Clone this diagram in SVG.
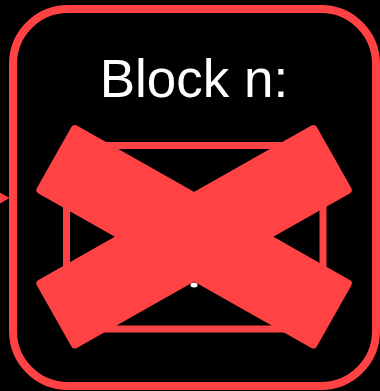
<svg xmlns="http://www.w3.org/2000/svg" width="380" height="391" viewBox="0 0 380 391">
  <style>
    .red-stroke { fill: none; stroke: #ff4244; }
    .band { fill: #ff4244; }
    .label { font-family: "Liberation Sans", Arial, sans-serif; fill: #ffffff; text-anchor: middle; }
  </style>
  <rect x="0" y="0" width="380" height="391" fill="#000000"/>
  <g id="connectors">
    <polygon points="0,192.5 9.5,198 0,203.5" fill="#ff4244"/>
  </g>
  <g id="block-n">
    <rect class="red-stroke" x="13" y="9" width="363" height="377" rx="55" ry="55" stroke-width="8"/>
    <text class="label" x="194" y="96.5" font-size="53">Block n:</text>
    <rect class="red-stroke" x="66.5" y="145.5" width="256.5" height="183.5" rx="8" ry="8" stroke-width="7"/>
    <ellipse cx="194" cy="285" rx="3.5" ry="2.5" fill="#ffffff"/>
  </g>
  <g id="cross">
    <rect class="band" x="33.3" y="197.75" width="321.6" height="78" rx="4" transform="rotate(29.5 194.1 236.75)"/>
    <rect class="band" x="33.3" y="197.75" width="321.6" height="78" rx="4" transform="rotate(-29.5 194.1 236.75)"/>
  </g>
</svg>
